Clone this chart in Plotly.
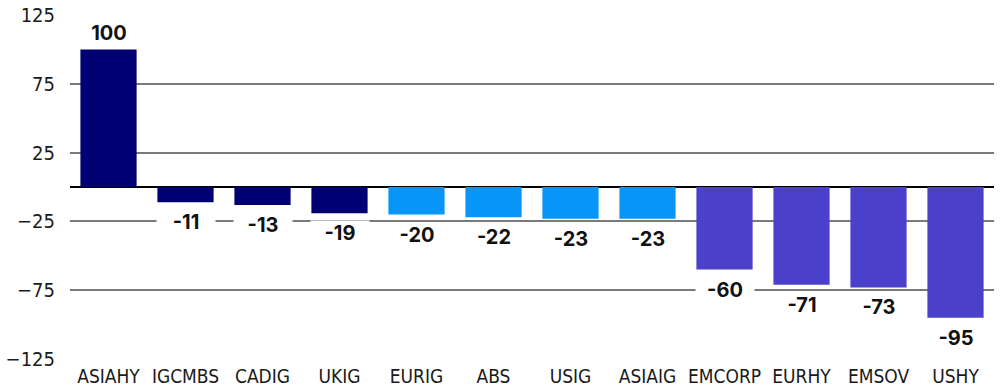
import plotly.graph_objects as go

categories = ["ASIAHY", "IGCMBS", "CADIG", "UKIG", "EURIG", "ABS", "USIG", "ASIAIG",
              "EMCORP", "EURHY", "EMSOV", "USHY"]
values = [100, -11, -13, -19, -20, -22, -23, -23, -60, -71, -73, -95]
groups = ["a", "a", "a", "a", "b", "b", "b", "b", "c", "c", "c", "c"]
group_colors = {"a": "#000072", "b": "#0796F8", "c": "#4A40CA"}
tick_vals = [125, 75, 25, -25, -75, -125]

colors = [group_colors[g] for g in groups]

fig = go.Figure()
fig.add_trace(go.Bar(x=categories, y=values, marker_color=colors, marker_line_width=0))

for c, v in zip(categories, values):
    fig.add_annotation(
        x=c, y=v, text=str(v), showarrow=False,
        yanchor="middle", yshift=16 if v > 0 else -20,
        bgcolor="white", width=56, height=22,
        font=dict(family="Inter", size=20, color="#111", weight=700),
    )

fig.update_layout(
    width=1003, height=390,
    margin=dict(l=70, r=9, t=15, b=31),
    plot_bgcolor="white", paper_bgcolor="white",
    bargap=0.27, showlegend=False,
    font=dict(family="DejaVu Sans Condensed, DejaVu Sans, sans-serif", size=20, color="#1a1a1a"),
)
fig.update_xaxes(showgrid=False, showline=False, ticks="", tickangle=0,
                 automargin=False, ticklabelstandoff=4,
                 tickfont=dict(size=19))
fig.update_yaxes(range=[-125, 125], tickvals=tick_vals, showgrid=True,
                 gridcolor="#7a7a7a", gridwidth=1.5, zeroline=True,
                 zerolinecolor="#000", zerolinewidth=1.5, showline=False,
                 automargin=False, ticklabelstandoff=14)

fig.write_html("out.html")
